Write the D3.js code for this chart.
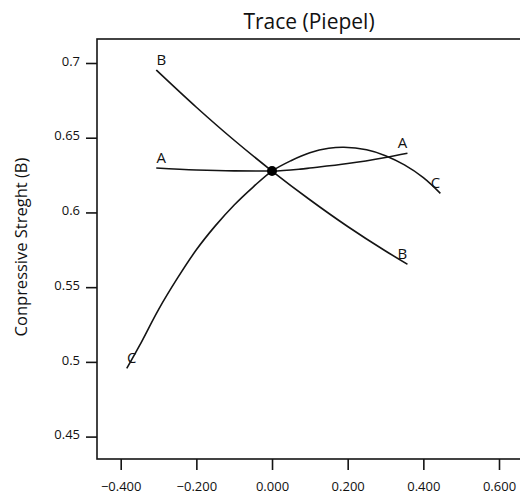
<!DOCTYPE html>
<html>
<head>
<meta charset="utf-8">
<script src="https://cdn.jsdelivr.net/npm/d3@7"></script>
<style>
  html, body { margin: 0; padding: 0; background: #fff; }
  svg { display: block; }
  text { font-family: "Open Sans", "DejaVu Sans", sans-serif; fill: #111; }
</style>
</head>
<body>
<svg id="chart" width="520" height="494"></svg>
<script>
// ---- Data ----
const xTicks = [-0.4, -0.2, 0.0, 0.2, 0.4, 0.6];
const yTicks = [0.45, 0.5, 0.55, 0.6, 0.65, 0.7];
const refPoint = { x: 0.0, y: 0.6277 };

const traceA_x = [-0.306, -0.2, -0.1, 0.0, 0.075, 0.1, 0.2, 0.3, 0.358];
const traceA_y = [0.6297, 0.6284, 0.6278, 0.6277, 0.6290, 0.6297, 0.6327, 0.6368, 0.6396];

const traceB_x = [-0.306, -0.2, -0.1, 0.0, 0.1, 0.2, 0.3, 0.358];
const traceB_y = [0.6953, 0.6704, 0.6483, 0.6277, 0.6085, 0.5906, 0.5742, 0.5653];

const traceC_x = [-0.384, -0.35, -0.3, -0.25, -0.2, -0.15, -0.1, -0.05, 0.0, 0.05, 0.1, 0.15, 0.19, 0.25, 0.3, 0.35, 0.4, 0.445];
const traceC_y = [0.4956, 0.5110, 0.5350, 0.5560, 0.5750, 0.5910, 0.6050, 0.6170, 0.6277, 0.6346, 0.6399, 0.6429, 0.6436, 0.6419, 0.6380, 0.6318, 0.6233, 0.6128];

const traceNames = ["A", "B", "C"];

// ---- Layout ----
const svg = d3.select("#chart");
const frame = { left: 97, right: 522, top: 39, bottom: 459 };

const x = d3.scaleLinear().domain([-0.4, 0.6]).range([120.7, 499]);
const y = d3.scaleLinear().domain([0.45, 0.7]).range([436.6, 63]);

const ink = "#141414";

// frame (right side falls just outside the window)
svg.append("rect")
  .attr("x", frame.left).attr("y", frame.top)
  .attr("width", frame.right - frame.left).attr("height", frame.bottom - frame.top)
  .attr("fill", "none").attr("stroke", ink).attr("stroke-width", 1.6);

// x axis
const xAxis = d3.axisBottom(x).tickValues(xTicks).tickFormat(d3.format(".3f")).tickSize(11).tickSizeOuter(0);
const gx = svg.append("g").attr("transform", `translate(0,${frame.bottom})`).call(xAxis);
gx.select(".domain").remove();
gx.selectAll("line").attr("stroke", ink).attr("stroke-width", 1.6);
gx.selectAll("text").attr("font-size", 13).attr("y", 32).attr("dy", 0)
  .style("font-family", "'Open Sans', sans-serif").attr("fill", "#111");

// y axis
const yAxis = d3.axisLeft(y).tickValues(yTicks).tickFormat(d => String(d)).tickSize(11).tickSizeOuter(0);
const gy = svg.append("g").attr("transform", `translate(${frame.left},0)`).call(yAxis);
gy.select(".domain").remove();
gy.selectAll("line").attr("stroke", ink).attr("stroke-width", 1.6);
gy.selectAll("text").attr("font-size", 13).attr("x", -17).attr("dy", "0.17em")
  .style("font-family", "'Open Sans', sans-serif").attr("fill", "#111");

// title
svg.append("text").attr("x", 309).attr("y", 29).attr("text-anchor", "middle")
  .attr("font-size", 21).text("Trace (Piepel)");

// y label
svg.append("text").attr("transform", "translate(27,247) rotate(-90)")
  .attr("text-anchor", "middle").attr("font-size", 16.5).text("Conpressive Streght (B)");

// traces
const line = d3.line().x(d => x(d[0])).y(d => y(d[1])).curve(d3.curveMonotoneX);
const lineC = d3.line().x(d => x(d[0])).y(d => y(d[1])).curve(d3.curveCatmullRom);
const traces = [
  d3.zip(traceA_x, traceA_y),
  d3.zip(traceB_x, traceB_y),
  d3.zip(traceC_x, traceC_y)
];

traces.forEach((pts, i) => {
  svg.append("path").datum(pts)
    .attr("d", i === 2 ? lineC : line)
    .attr("fill", "none").attr("stroke", ink).attr("stroke-width", 1.6);
  const s = pts[0], e = pts[pts.length - 1];
  svg.append("text").attr("x", x(s[0]) + 5).attr("y", y(s[1]) - 5)
    .attr("text-anchor", "middle").attr("font-size", 15).text(traceNames[i]);
  svg.append("text").attr("x", x(e[0]) - 5).attr("y", y(e[1]) - 5)
    .attr("text-anchor", "middle").attr("font-size", 15).text(traceNames[i]);
});

// reference point
svg.append("circle").attr("cx", x(refPoint.x)).attr("cy", y(refPoint.y)).attr("r", 5).attr("fill", "#000");
</script>
</body>
</html>
